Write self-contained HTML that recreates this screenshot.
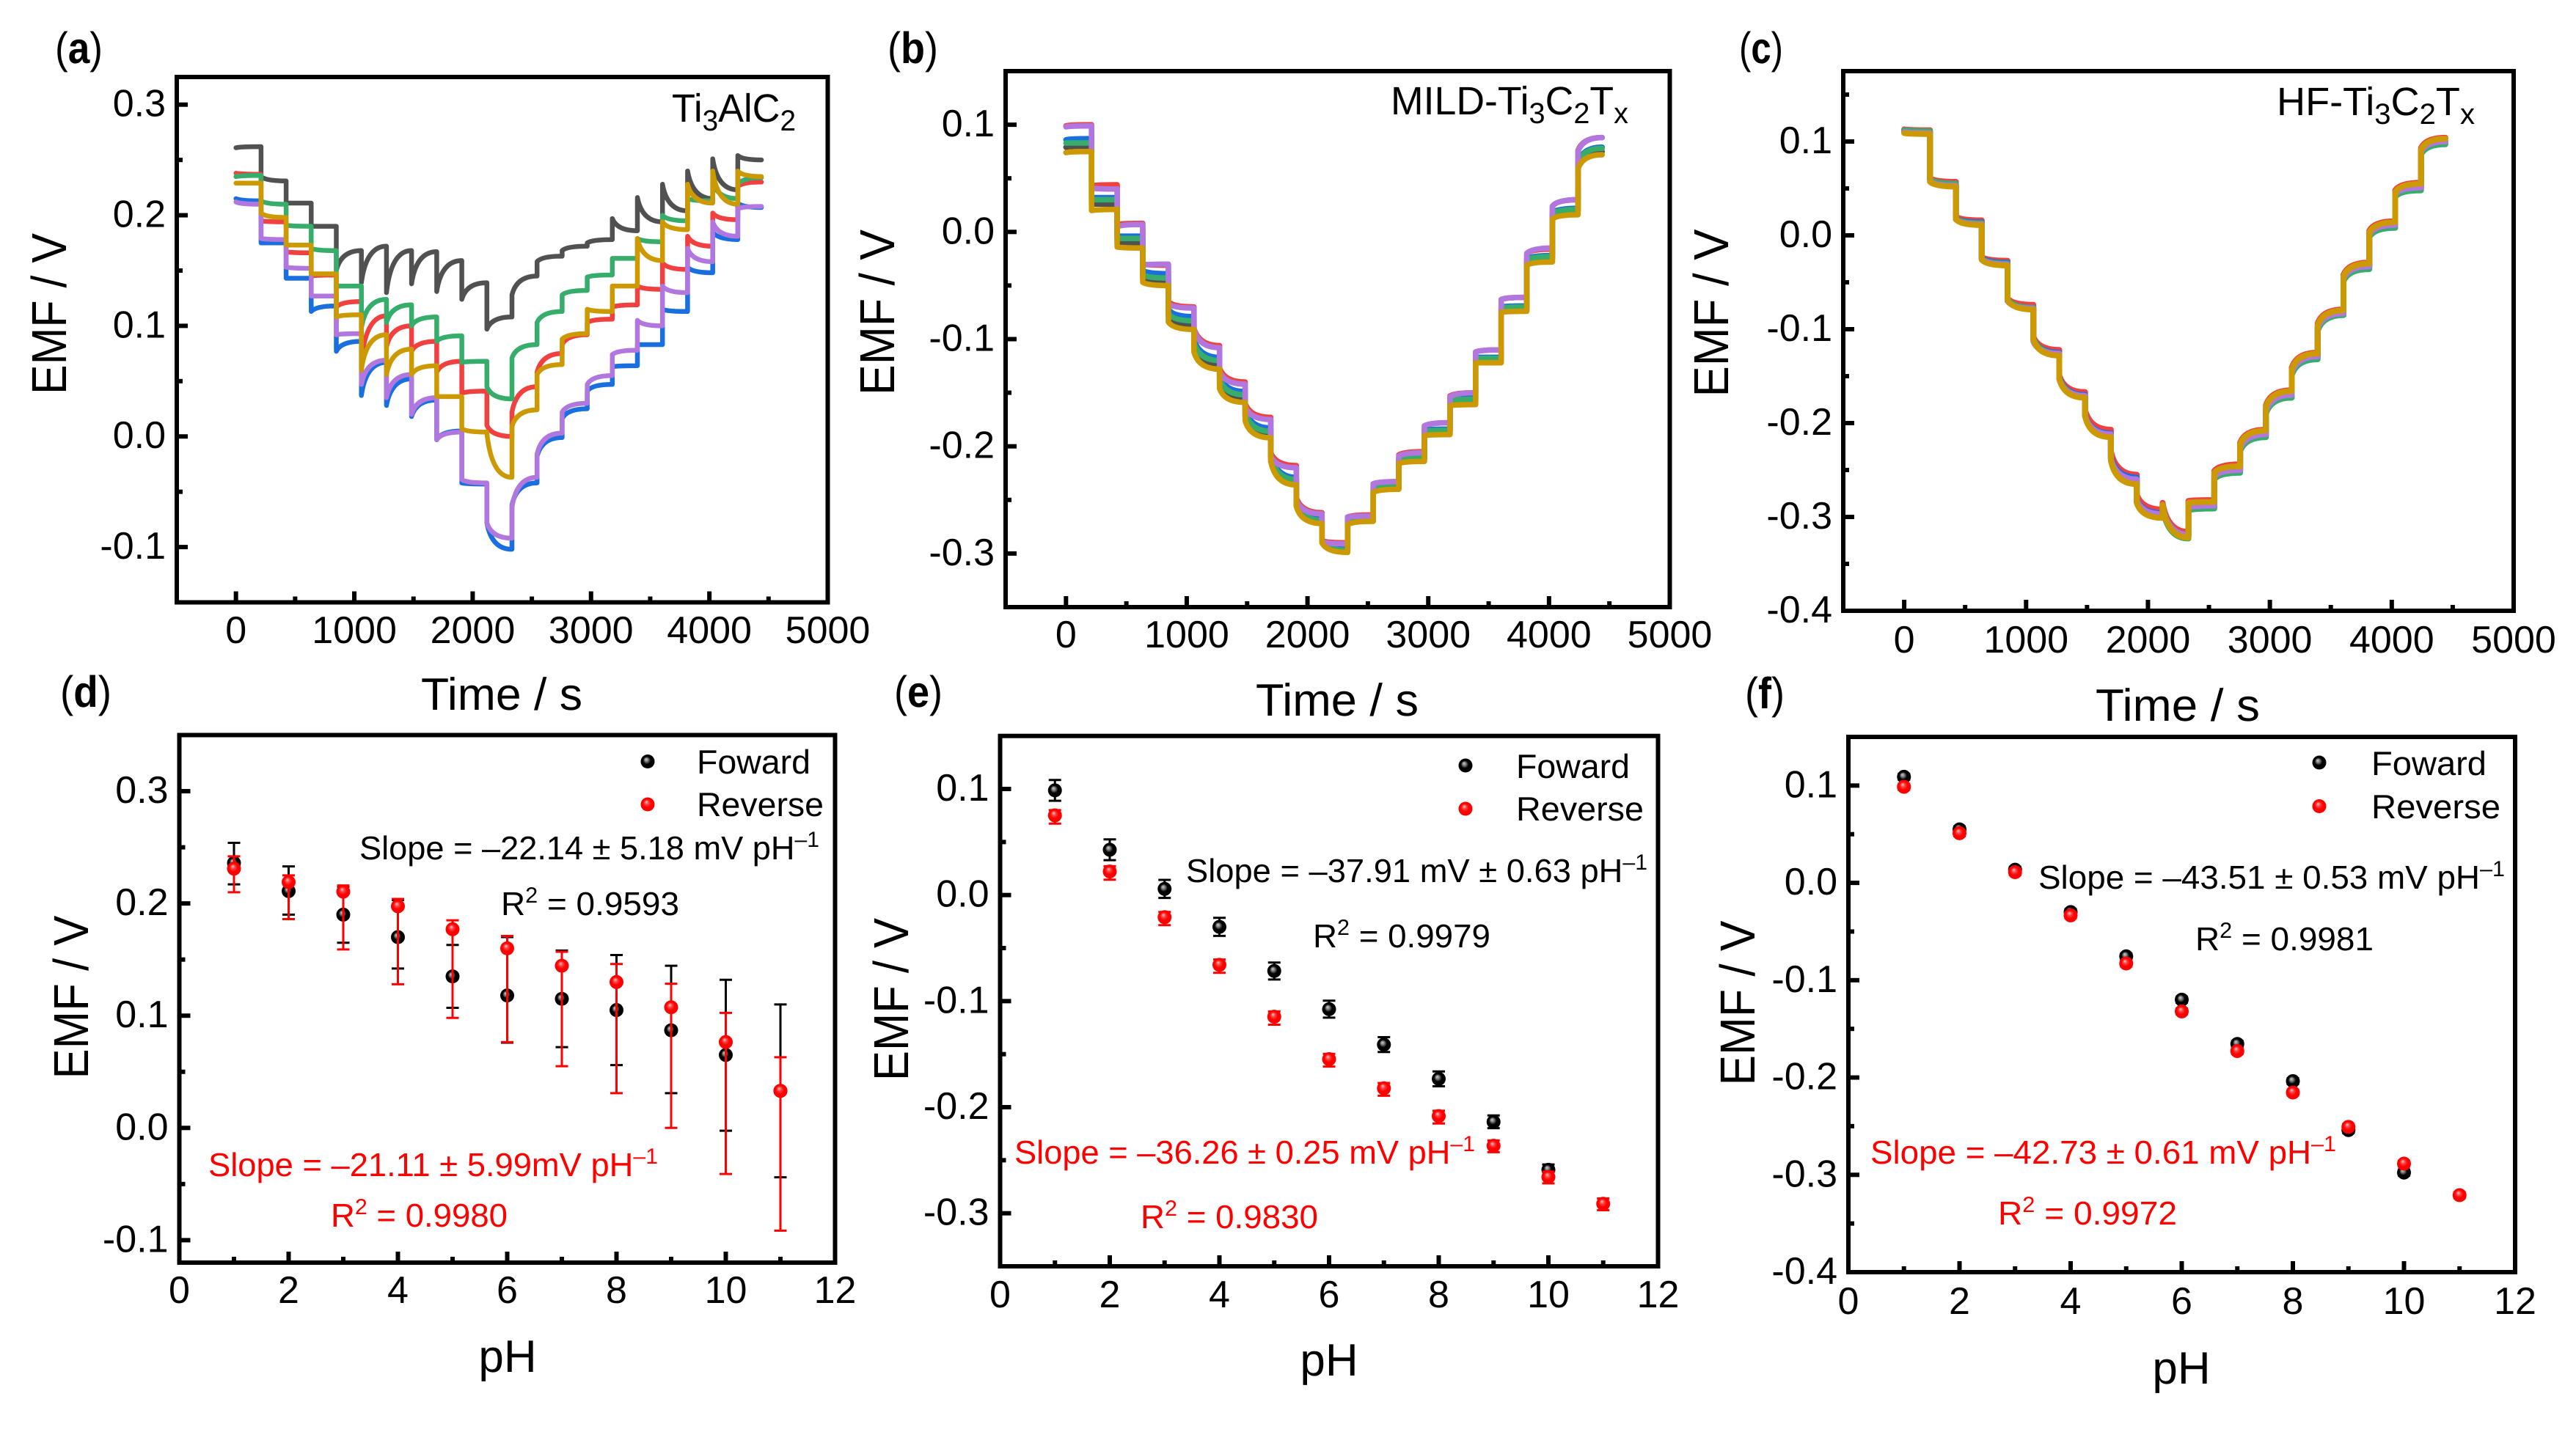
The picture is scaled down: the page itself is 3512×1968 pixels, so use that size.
<!DOCTYPE html>
<html lang="en">
<head>
<meta charset="utf-8">
<title>EMF response of Ti3AlC2, MILD-Ti3C2Tx and HF-Ti3C2Tx</title>
<style>
html,body{margin:0;padding:0;background:#fff;}
svg{display:block;}
text{font-family:"Liberation Sans",sans-serif;fill:#000;text-rendering:geometricPrecision;}
.tick{font-size:52px;}
.title{font-size:62px;}
.ytitle{font-size:67px;}
.note{font-size:45px;}
.legend{font-size:46px;}
.tag{font-size:54px;}
.panel-label{font-size:60px;}
.red{fill:#f00;}
</style>
</head>
<body>
<svg id="figure" xmlns="http://www.w3.org/2000/svg" width="3512" height="1968" viewBox="0 0 3512 1968">
<defs>
<radialGradient id="ball-black" cx="50%" cy="50%" r="50%" fx="38%" fy="34%">
<stop offset="0" stop-color="#d0d0d0"/><stop offset="0.28" stop-color="#777"/><stop offset="0.55" stop-color="#000"/><stop offset="1" stop-color="#000"/>
</radialGradient>
<radialGradient id="ball-red" cx="50%" cy="50%" r="50%" fx="40%" fy="32%">
<stop offset="0" stop-color="#ffc8c8"/><stop offset="0.3" stop-color="#ff4040"/><stop offset="0.6" stop-color="#f00"/><stop offset="1" stop-color="#f00"/>
</radialGradient>
</defs>
<rect x="0" y="0" width="3512" height="1968" fill="#fff"/>

<text class="panel-label" x="75" y="86" textLength="65" lengthAdjust="spacingAndGlyphs">(<tspan font-weight="bold">a</tspan>)</text>
<text class="panel-label" x="1210" y="86" textLength="69" lengthAdjust="spacingAndGlyphs">(<tspan font-weight="bold">b</tspan>)</text>
<text class="panel-label" x="2371" y="86" textLength="60" lengthAdjust="spacingAndGlyphs">(<tspan font-weight="bold">c</tspan>)</text>
<text class="panel-label" x="82" y="964" textLength="70" lengthAdjust="spacingAndGlyphs">(<tspan font-weight="bold">d</tspan>)</text>
<text class="panel-label" x="1219" y="964" textLength="66" lengthAdjust="spacingAndGlyphs">(<tspan font-weight="bold">e</tspan>)</text>
<text class="panel-label" x="2379" y="966" textLength="54" lengthAdjust="spacingAndGlyphs">(<tspan font-weight="bold">f</tspan>)</text>

<g id="plot-a"></g>
<g id="plot-b"></g>
<g id="plot-c"></g>
<g id="plot-d"></g>
<g id="plot-e"></g>
<g id="plot-f"></g>

<text class="tag" x="916" y="166" textLength="169" lengthAdjust="spacingAndGlyphs">Ti<tspan dy="12" font-size="40">3</tspan><tspan dy="-12">AlC</tspan><tspan dy="12" font-size="40">2</tspan></text>
<text class="tag" x="1896" y="156" textLength="324" lengthAdjust="spacingAndGlyphs">MILD-Ti<tspan dy="12" font-size="40">3</tspan><tspan dy="-12">C</tspan><tspan dy="12" font-size="40">2</tspan><tspan dy="-12">T</tspan><tspan dy="12" font-size="40">x</tspan></text>
<text class="tag" x="3104" y="157" textLength="270" lengthAdjust="spacingAndGlyphs">HF-Ti<tspan dy="12" font-size="40">3</tspan><tspan dy="-12">C</tspan><tspan dy="12" font-size="40">2</tspan><tspan dy="-12">T</tspan><tspan dy="12" font-size="40">x</tspan></text>

<text class="title" text-anchor="middle" x="684" y="968" textLength="220" lengthAdjust="spacingAndGlyphs">Time / s</text>
<text class="title" text-anchor="middle" x="1823" y="976" textLength="222" lengthAdjust="spacingAndGlyphs">Time / s</text>
<text class="title" text-anchor="middle" x="2969" y="983" textLength="224" lengthAdjust="spacingAndGlyphs">Time / s</text>
<text class="title" text-anchor="middle" x="692" y="1871">pH</text>
<text class="title" text-anchor="middle" x="1812" y="1876">pH</text>
<text class="title" text-anchor="middle" x="2974" y="1887">pH</text>

<text class="ytitle" text-anchor="middle" transform="translate(90,428) rotate(-90)" textLength="220" lengthAdjust="spacingAndGlyphs">EMF / V</text>
<text class="ytitle" text-anchor="middle" transform="translate(1219,426) rotate(-90)" textLength="226" lengthAdjust="spacingAndGlyphs">EMF / V</text>
<text class="ytitle" text-anchor="middle" transform="translate(2356,427) rotate(-90)" textLength="229" lengthAdjust="spacingAndGlyphs">EMF / V</text>
<text class="ytitle" text-anchor="middle" transform="translate(120,1360) rotate(-90)" textLength="223" lengthAdjust="spacingAndGlyphs">EMF / V</text>
<text class="ytitle" text-anchor="middle" transform="translate(1238,1363) rotate(-90)" textLength="222" lengthAdjust="spacingAndGlyphs">EMF / V</text>
<text class="ytitle" text-anchor="middle" transform="translate(2392,1368) rotate(-90)" textLength="225" lengthAdjust="spacingAndGlyphs">EMF / V</text>

<text class="legend" x="950" y="1055" textLength="155" lengthAdjust="spacingAndGlyphs">Foward</text>
<text class="legend" x="950" y="1113" textLength="173" lengthAdjust="spacingAndGlyphs">Reverse</text>
<text class="legend" x="2067" y="1061" textLength="155" lengthAdjust="spacingAndGlyphs">Foward</text>
<text class="legend" x="2067" y="1119" textLength="174" lengthAdjust="spacingAndGlyphs">Reverse</text>
<text class="legend" x="3233" y="1057" textLength="157" lengthAdjust="spacingAndGlyphs">Foward</text>
<text class="legend" x="3233" y="1116" textLength="176" lengthAdjust="spacingAndGlyphs">Reverse</text>

<text class="note" x="490" y="1172" textLength="627" lengthAdjust="spacingAndGlyphs">Slope = –22.14 ± 5.18 mV pH<tspan dy="-17" font-size="30">–1</tspan></text>
<text class="note" x="683" y="1248" textLength="243" lengthAdjust="spacingAndGlyphs">R<tspan dy="-17" font-size="30">2</tspan><tspan dy="17"> = 0.9593</tspan></text>
<text class="note red" x="284" y="1604" textLength="613" lengthAdjust="spacingAndGlyphs">Slope = –21.11 ± 5.99mV pH<tspan dy="-17" font-size="30">–1</tspan></text>
<text class="note red" x="451" y="1673" textLength="241" lengthAdjust="spacingAndGlyphs">R<tspan dy="-17" font-size="30">2</tspan><tspan dy="17"> = 0.9980</tspan></text>

<text class="note" x="1617" y="1203" textLength="629" lengthAdjust="spacingAndGlyphs">Slope = –37.91 mV ± 0.63 pH<tspan dy="-17" font-size="30">–1</tspan></text>
<text class="note" x="1790" y="1292" textLength="242" lengthAdjust="spacingAndGlyphs">R<tspan dy="-17" font-size="30">2</tspan><tspan dy="17"> = 0.9979</tspan></text>
<text class="note red" x="1383" y="1587" textLength="628" lengthAdjust="spacingAndGlyphs">Slope = –36.26 ± 0.25 mV pH<tspan dy="-17" font-size="30">–1</tspan></text>
<text class="note red" x="1555" y="1675" textLength="242" lengthAdjust="spacingAndGlyphs">R<tspan dy="-17" font-size="30">2</tspan><tspan dy="17"> = 0.9830</tspan></text>

<text class="note" x="2779" y="1212" textLength="636" lengthAdjust="spacingAndGlyphs">Slope = –43.51 ± 0.53 mV pH<tspan dy="-17" font-size="30">–1</tspan></text>
<text class="note" x="2993" y="1296" textLength="243" lengthAdjust="spacingAndGlyphs">R<tspan dy="-17" font-size="30">2</tspan><tspan dy="17"> = 0.9981</tspan></text>
<text class="note red" x="2550" y="1587" textLength="635" lengthAdjust="spacingAndGlyphs">Slope = –42.73 ± 0.61 mV pH<tspan dy="-17" font-size="30">–1</tspan></text>
<text class="note red" x="2724" y="1670" textLength="244" lengthAdjust="spacingAndGlyphs">R<tspan dy="-17" font-size="30">2</tspan><tspan dy="17"> = 0.9972</tspan></text>
</svg>

<script>
// ---- shared categories and tick labels ----
const segmentTimes = [0,212,424,636,848,1060,1272,1484,1696,1908,2120,2332,2544,2756,2968,3180,3392,3604,3816,4028,4240,4440];
const timeTicks = [0,1000,2000,3000,4000,5000];
const phTicks = [0,2,4,6,8,10,12];
const phValues = [1,2,3,4,5,6,7,8,9,10,11];
const seriesNames = ['gray','red','blue','green','purple','gold'];
const seriesColors = ['#515151','#F14040','#1A6FDF','#37AD6B','#B177DE','#CC9900'];

// ---- panel a: EMF (V) at start and end of each time segment ----
const aTicks = [-0.1,0,0.1,0.2,0.3];
const aGray = [.261,.262,.235,.231,.211,.211,.190,.190,.150,.168,.139,.172,.130,.168,.138,.167,.131,.159,.124,.139,.097,.108,.128,.145,.158,.163,.168,.172,.175,.178,.197,.186,.216,.194,.228,.204,.240,.215,.251,.223,.254,.250];
const aRed = [.238,.237,.195,.194,.167,.166,.145,.146,.117,.122,.069,.109,.081,.100,.077,.086,.058,.068,.039,.041,.010,.000,.022,.045,.058,.075,.083,.092,.103,.106,.117,.119,.136,.133,.157,.151,.181,.172,.202,.196,.226,.230];
const aBlue = [.215,.213,.175,.175,.143,.143,.113,.118,.077,.086,.037,.067,.028,.052,.018,.033,-.003,.005,-.042,-.043,-.078,-.102,-.062,-.042,-.018,-.001,.016,.025,.041,.047,.063,.064,.083,.083,.115,.113,.153,.148,.185,.178,.211,.207];
const aGreen = [.235,.236,.213,.210,.191,.190,.170,.168,.136,.136,.098,.124,.103,.119,.100,.108,.086,.091,.067,.068,.045,.034,.071,.083,.103,.113,.128,.132,.144,.146,.161,.161,.179,.176,.200,.195,.215,.213,.230,.215,.228,.234];
const aPurple = [.212,.210,.179,.178,.153,.152,.127,.127,.092,.093,.047,.069,.035,.056,.020,.035,-.003,.004,-.039,-.042,-.078,-.092,-.064,-.037,-.016,.003,.022,.030,.047,.055,.074,.078,.105,.100,.136,.130,.170,.158,.194,.181,.206,.208];
const aGold = [.229,.229,.202,.198,.173,.173,.147,.147,.108,.110,.060,.092,.056,.079,.056,.064,.036,.036,.007,.004,.003,-.037,.009,.024,.056,.065,.088,.093,.115,.113,.136,.136,.179,.159,.194,.187,.228,.211,.240,.210,.240,.235];

// ---- panel b ----
const bTicks = [-0.3,-0.2,-0.1,0,0.1];
const bGray = [.079,.080,.026,.026,-.010,-.010,-.043,-.046,-.079,-.087,-.107,-.124,-.142,-.156,-.172,-.190,-.212,-.234,-.255,-.271,-.289,-.298,-.272,-.269,-.242,-.239,-.214,-.212,-.188,-.187,-.160,-.159,-.120,-.120,-.073,-.072,-.028,-.025,.015,.019,.062,.075];
const bRed = [.099,.100,.043,.044,.007,.008,-.030,-.031,-.065,-.070,-.090,-.106,-.127,-.140,-.160,-.173,-.206,-.218,-.248,-.262,-.288,-.290,-.266,-.264,-.235,-.233,-.208,-.205,-.181,-.178,-.153,-.150,-.112,-.110,-.063,-.061,-.020,-.016,.024,.030,.076,.088];
const bBlue = [.086,.087,.032,.032,-.004,-.004,-.036,-.039,-.072,-.079,-.100,-.117,-.134,-.149,-.166,-.183,-.207,-.229,-.251,-.268,-.287,-.296,-.269,-.267,-.239,-.236,-.211,-.209,-.185,-.184,-.156,-.155,-.117,-.117,-.070,-.069,-.025,-.022,.018,.022,.065,.079];
const bGreen = [.083,.083,.030,.030,-.006,-.006,-.040,-.043,-.076,-.083,-.103,-.120,-.137,-.152,-.168,-.186,-.209,-.231,-.252,-.269,-.288,-.297,-.270,-.268,-.240,-.237,-.212,-.210,-.186,-.185,-.157,-.156,-.118,-.118,-.071,-.070,-.026,-.023,.017,.021,.064,.078];
const bPurple = [.098,.099,.041,.040,.005,.007,-.031,-.030,-.067,-.071,-.091,-.108,-.130,-.142,-.163,-.175,-.209,-.220,-.250,-.263,-.289,-.291,-.266,-.265,-.235,-.233,-.209,-.206,-.181,-.178,-.154,-.150,-.112,-.110,-.063,-.061,-.020,-.015,.024,.030,.075,.088];
const bGold = [.074,.075,.020,.021,-.014,-.015,-.047,-.050,-.084,-.091,-.112,-.128,-.146,-.159,-.176,-.192,-.214,-.236,-.256,-.272,-.290,-.299,-.273,-.270,-.243,-.240,-.216,-.214,-.190,-.189,-.162,-.161,-.122,-.122,-.075,-.074,-.031,-.028,.012,.016,.059,.072];

// ---- panel c ----
const cTicks = [-0.4,-0.3,-0.2,-0.1,0,0.1];
const cGray = [.111,.110,.059,.054,.018,.012,-.025,-.030,-.069,-.078,-.111,-.127,-.152,-.172,-.192,-.214,-.239,-.263,-.284,-.299,-.288,-.321,-.289,-.287,-.256,-.249,-.226,-.211,-.186,-.169,-.145,-.128,-.098,-.082,-.045,-.032,.002,.012,.045,.053,.090,.101];
const cRed = [.113,.112,.061,.057,.020,.016,-.023,-.027,-.067,-.074,-.108,-.122,-.149,-.167,-.186,-.207,-.230,-.255,-.276,-.292,-.285,-.316,-.283,-.282,-.251,-.244,-.221,-.207,-.181,-.165,-.141,-.125,-.094,-.079,-.042,-.029,.005,.015,.048,.056,.093,.104];
const cBlue = [.111,.110,.059,.054,.018,.014,-.024,-.029,-.068,-.077,-.110,-.125,-.151,-.170,-.191,-.211,-.236,-.258,-.281,-.296,-.287,-.319,-.291,-.289,-.258,-.251,-.228,-.213,-.188,-.171,-.147,-.130,-.100,-.084,-.047,-.034,.000,.010,.043,.050,.088,.099];
const cGreen = [.112,.111,.060,.055,.018,.013,-.025,-.030,-.068,-.077,-.110,-.126,-.152,-.171,-.192,-.213,-.238,-.261,-.283,-.298,-.290,-.323,-.293,-.291,-.260,-.253,-.230,-.215,-.190,-.173,-.149,-.132,-.102,-.085,-.049,-.036,-.002,.008,.041,.048,.086,.097];
const cPurple = [.110,.109,.058,.053,.017,.012,-.025,-.031,-.070,-.078,-.113,-.126,-.153,-.171,-.192,-.212,-.238,-.260,-.282,-.297,-.288,-.319,-.290,-.288,-.257,-.250,-.227,-.212,-.187,-.170,-.146,-.129,-.099,-.083,-.046,-.033,.001,.011,.044,.051,.089,.100];
const cGold = [.109,.108,.057,.052,.017,.011,-.026,-.032,-.069,-.079,-.111,-.128,-.153,-.173,-.193,-.215,-.240,-.265,-.285,-.301,-.287,-.322,-.285,-.284,-.253,-.246,-.223,-.208,-.183,-.166,-.143,-.126,-.096,-.080,-.044,-.030,.003,.014,.046,.055,.091,.103];

// ---- panel d: EMF vs pH with error bars ----
const dTicks = [-0.1,0,0.1,0.2,0.3];
const dForward = [.236,.211,.190,.170,.135,.118,.115,.105,.087,.065,.033];
const dForwardHigh = [.254,.233,.215,.203,.163,.170,.158,.154,.1445,.132,.110];
const dForwardLow = [.217,.190,.165,.142,.107,.076,.072,.056,.031,-.0025,-.044];
const dReverse = [.231,.219,.2105,.1975,.177,.160,.1445,.130,.1075,.0765,.033];
const dReverseHigh = [.242,.225,.216,.204,.185,.171,.157,.146,.1285,.1025,.063];
const dReverseLow = [.210,.186,.159,.128,.098,.0765,.055,.031,.000,-.041,-.0915];

// ---- panel e ----
const eTicks = [-0.3,-0.2,-0.1,0,0.1];
const eForward = [.0987,.0427,.0058,-.030,-.0716,-.1076,-.141,-.1733,-.2138,-.259];
const eForwardHigh = [.1085,.0525,.0143,-.0215,-.0636,-.0996,-.134,-.1663,-.2078,-.254];
const eForwardLow = [.0889,.0329,-.0027,-.0385,-.0796,-.1156,-.148,-.1803,-.2198,-.264];
const eReverse = [.0751,.0222,-.0209,-.0658,-.1147,-.1547,-.1822,-.2084,-.2364,-.2658,-.2911];
const eReverseHigh = [.0801,.0272,-.0159,-.0608,-.1097,-.1497,-.1772,-.2034,-.2314,-.2608,-.2861];
const eReverseLow = [.0674,.0145,-.0284,-.0733,-.1222,-.1617,-.1892,-.2154,-.2424,-.2718,-.2971];

// ---- panel f ----
const fTicks = [-0.4,-0.3,-0.2,-0.1,0,0.1];
const fForward = [.109,.055,.0135,-.030,-.0755,-.120,-.1655,-.2037,-.254,-.2977];
const fForwardHigh = [.112,.058,.0165,-.027,-.0725,-.117,-.1625,-.2007,-.251,-.2947];
const fForwardLow = [.106,.052,.0105,-.033,-.0785,-.123,-.1685,-.2067,-.257,-.3007];
const fReverse = [.0987,.051,.011,-.0334,-.0828,-.1321,-.1728,-.2154,-.2507,-.2885,-.3209];
const fReverseHigh = [.1017,.054,.014,-.0304,-.0798,-.1291,-.1698,-.2124,-.2477,-.2855,-.3179];
const fReverseLow = [.0957,.048,.008,-.0364,-.0858,-.1351,-.1758,-.2184,-.2537,-.2915,-.3239];

const NS = 'http://www.w3.org/2000/svg';
function make(tag, parent, attrs) {
  const el = document.createElementNS(NS, tag);
  for (const k in attrs) el.setAttribute(k, attrs[k]);
  parent.appendChild(el);
  return el;
}
function axisX(box) { return v => box.L + (v - box.xMin) / (box.xMax - box.xMin) * (box.R - box.L); }
function axisY(box) { return v => box.B - (v - box.yMin) / (box.yMax - box.yMin) * (box.B - box.T); }

function drawAxes(g, box, xTicks, yTicks) {
  const X = axisX(box), Y = axisY(box);
  const xStep = xTicks[1] - xTicks[0], yStep = yTicks[1] - yTicks[0];
  xTicks.forEach((v, i) => {
    const px = X(v);
    if (v > box.xMin && v < box.xMax) {
      const t = make('line', g, {x1: px, x2: px, y1: box.B, y2: box.B - 15, stroke: '#000', 'stroke-width': 6});
      
      
    }
    const mid = v + xStep / 2;
    if (i < xTicks.length - 1) {
      const m = make('line', g, {x1: X(mid), x2: X(mid), y1: box.B, y2: box.B - 8, stroke: '#000', 'stroke-width': 6});
      
      
    }
    const lab = make('text', g, {class: 'tick', x: px, y: box.xLabelY, 'text-anchor': 'middle'});
    lab.textContent = String(v);
    
    
  });
  const firstMinor = yTicks[0] - yStep / 2;
  for (let i = 0; i <= yTicks.length; i++) {
    const mv = firstMinor + i * yStep;
    if (mv > box.yMin + 1e-6 && mv < box.yMax - 1e-6) {
      const m = make('line', g, {x1: box.L, x2: box.L + 8, y1: Y(mv), y2: Y(mv), stroke: '#000', 'stroke-width': 6});
      
      
    }
  }
  yTicks.forEach(v => {
    const py = Y(v);
    const t = make('line', g, {x1: box.L, x2: box.L + 15, y1: py, y2: py, stroke: '#000', 'stroke-width': 6});
    
    
    const lab = make('text', g, {class: 'tick', x: box.L - 15, y: py + 16, 'text-anchor': 'end'});
    lab.textContent = v.toFixed(1);
    
    
  });
}

function drawFrame(g, box) {
  const f = make('rect', g, {x: box.L, y: box.T, width: box.R - box.L, height: box.B - box.T, fill: 'none', stroke: '#000', 'stroke-width': 6});
  
  
}

function drawSteps(g, box, seriesList) {
  const X = axisX(box), Y = axisY(box);
  seriesList.forEach((vals, s) => {
    let d = '';
    for (let i = 0; i < segmentTimes.length - 1; i++) {
      const t0 = segmentTimes[i], t1 = segmentTimes[i + 1];
      const a = vals[2 * i], b = vals[2 * i + 1];
      d += (i === 0 ? 'M' : 'L') + X(t0).toFixed(1) + ' ' + Y(a).toFixed(1);
      d += 'Q' + X(t0 + 40).toFixed(1) + ' ' + Y(b).toFixed(1) + ' ' + X(t1).toFixed(1) + ' ' + Y(b).toFixed(1);
    }
    const p = make('path', g, {d: d, fill: 'none', stroke: seriesColors[s], 'stroke-width': box.lineWidth, 'stroke-linejoin': 'round', 'stroke-linecap': 'round'});
    
    
  });
}

function drawBall(g, cx, cy, grad) {
  const c = make('circle', g, {cx: cx, cy: cy, r: 9.5, fill: 'url(#' + grad + ')'});
  return c;
}

function drawPoints(g, box, values, highs, lows, color, grad, label) {
  const X = axisX(box), Y = axisY(box);
  values.forEach((v, i) => {
    const px = X(phValues[i]);
    const top = Y(highs[i]), bot = Y(lows[i]);
    const stem = make('line', g, {x1: px, x2: px, y1: top, y2: bot, stroke: color, 'stroke-width': 3});
    
    
    const capT = make('line', g, {x1: px - 8.5, x2: px + 8.5, y1: top, y2: top, stroke: color, 'stroke-width': 3});
    
    
    const capB = make('line', g, {x1: px - 8.5, x2: px + 8.5, y1: bot, y2: bot, stroke: color, 'stroke-width': 3});
    
    
    const pt = drawBall(g, px, Y(v), grad);
    
    
  });
}

function drawLegend(g, cx, cy1, cy2) {
  const a = drawBall(g, cx, cy1, 'ball-black');
  
  
  const b = drawBall(g, cx, cy2, 'ball-red');
  
  
}

const boxA = {L: 241, R: 1128.5, T: 105, B: 821.5, xMin: -500, xMax: 5000, yMin: -0.15, yMax: 0.325, xLabelY: 877, lineWidth: 6.5};
const boxB = {L: 1371, R: 2276.5, T: 97, B: 828, xMin: -500, xMax: 5000, yMin: -0.35, yMax: 0.15, xLabelY: 883, lineWidth: 7.5};
const boxC = {L: 2513, R: 3427, T: 97, B: 833, xMin: -500, xMax: 5000, yMin: -0.4, yMax: 0.175, xLabelY: 890, lineWidth: 8};
const boxD = {L: 244.5, R: 1138.5, T: 1002.5, B: 1722, xMin: 0, xMax: 12, yMin: -0.12, yMax: 0.35, xLabelY: 1777};
const boxE = {L: 1363.5, R: 2260.5, T: 1003.7, B: 1727, xMin: 0, xMax: 12, yMin: -0.35, yMax: 0.15, xLabelY: 1783};
const boxF = {L: 2520, R: 3429, T: 1005, B: 1735, xMin: 0, xMax: 12, yMin: -0.4, yMax: 0.15, xLabelY: 1792};

const plotA = document.getElementById('plot-a');
const plotB = document.getElementById('plot-b');
const plotC = document.getElementById('plot-c');
const plotD = document.getElementById('plot-d');
const plotE = document.getElementById('plot-e');
const plotF = document.getElementById('plot-f');

drawAxes(plotA, boxA, timeTicks, aTicks);
drawSteps(plotA, boxA, [aGray, aRed, aBlue, aGreen, aPurple, aGold]);
drawFrame(plotA, boxA);

drawAxes(plotB, boxB, timeTicks, bTicks);
drawSteps(plotB, boxB, [bGray, bRed, bBlue, bGreen, bPurple, bGold]);
drawFrame(plotB, boxB);

drawAxes(plotC, boxC, timeTicks, cTicks);
drawSteps(plotC, boxC, [cGray, cRed, cBlue, cGreen, cPurple, cGold]);
drawFrame(plotC, boxC);

drawAxes(plotD, boxD, phTicks, dTicks);
drawPoints(plotD, boxD, dForward, dForwardHigh, dForwardLow, '#000', 'ball-black', 'forward');
drawPoints(plotD, boxD, dReverse, dReverseHigh, dReverseLow, '#f00', 'ball-red', 'reverse');
drawLegend(plotD, 883, 1038.5, 1097);
drawFrame(plotD, boxD);

drawAxes(plotE, boxE, phTicks, eTicks);
drawPoints(plotE, boxE, eForward, eForwardHigh, eForwardLow, '#000', 'ball-black', 'forward');
drawPoints(plotE, boxE, eReverse, eReverseHigh, eReverseLow, '#f00', 'ball-red', 'reverse');
drawLegend(plotE, 1998, 1044, 1103);
drawFrame(plotE, boxE);

drawAxes(plotF, boxF, phTicks, fTicks);
drawPoints(plotF, boxF, fForward, fForwardHigh, fForwardLow, '#000', 'ball-black', 'forward');
drawPoints(plotF, boxF, fReverse, fReverseHigh, fReverseLow, '#f00', 'ball-red', 'reverse');
drawLegend(plotF, 3162, 1040, 1099.5);
drawFrame(plotF, boxF);
</script>
</body>
</html>
